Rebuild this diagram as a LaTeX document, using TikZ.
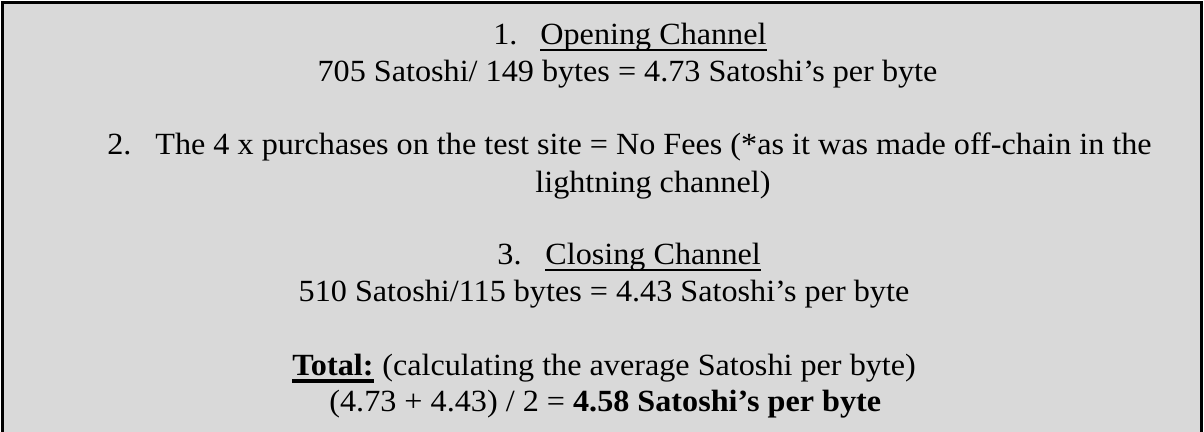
\documentclass[tikz,border=0pt]{standalone}
\usepackage{fontspec}
\setmainfont{Liberation Serif}[FakeStretch=1.045]
\definecolor{boxgray}{HTML}{D9D9D9}
\tikzset{
  txt/.style={inner sep=0pt, anchor=base west, font=\fontsize{15.4}{18}\selectfont},
  uline/.style={line width=1pt},
}
\begin{document}
\begin{tikzpicture}[x=0.5pt,y=-0.5pt]
  \useasboundingbox (0,0) rectangle (1204,432);
  \clip (0,0) rectangle (1204,432);
  %riquadro
  \draw[line width=1.4pt, fill=boxgray] (2.5,2.5) rectangle (1201.5,470);

  %apertura canale
  \node[txt] (num1) at (493,45) {1.};
  \node[txt] (open) at (540,45) {Opening Channel};
  \draw[uline] ([yshift=-2.5pt]open.base west) -- ([yshift=-2.5pt]open.base east);
  \node[txt, anchor=base] (fee1) at (627.5,82) {705 Satoshi/ 149 bytes = 4.73 Satoshi’s per byte};

  %acquisti
  \node[txt] (num2) at (107,155) {2.};
  \node[txt] (buy) at (155,155) {The 4 x purchases on the test site = No Fees (*as it was made off-chain in the};
  \node[txt] (buy2) at (535,193) {lightning channel)};

  %chiusura canale
  \node[txt] (num3) at (497,265) {3.};
  \node[txt] (close) at (545,265) {Closing Channel};
  \draw[uline] ([yshift=-2.5pt]close.base west) -- ([yshift=-2.5pt]close.base east);
  \node[txt, anchor=base] (fee2) at (604,302) {510 Satoshi/115 bytes = 4.43 Satoshi’s per byte};

  %totale
  \node[txt] (tot) at (292,376) {\bfseries Total:};
  \draw[uline, line width=1.8pt] ([yshift=-2.6pt]tot.base west) -- ([yshift=-2.6pt]tot.base east);
  \node[txt] (calc) at ([xshift=4pt]tot.base east) {(calculating the average Satoshi per byte)};
  \node[txt] (avg) at (329,412) {(4.73 + 4.43) / 2 = \textbf{4.58 Satoshi’s per byte}};
\end{tikzpicture}
\end{document}
